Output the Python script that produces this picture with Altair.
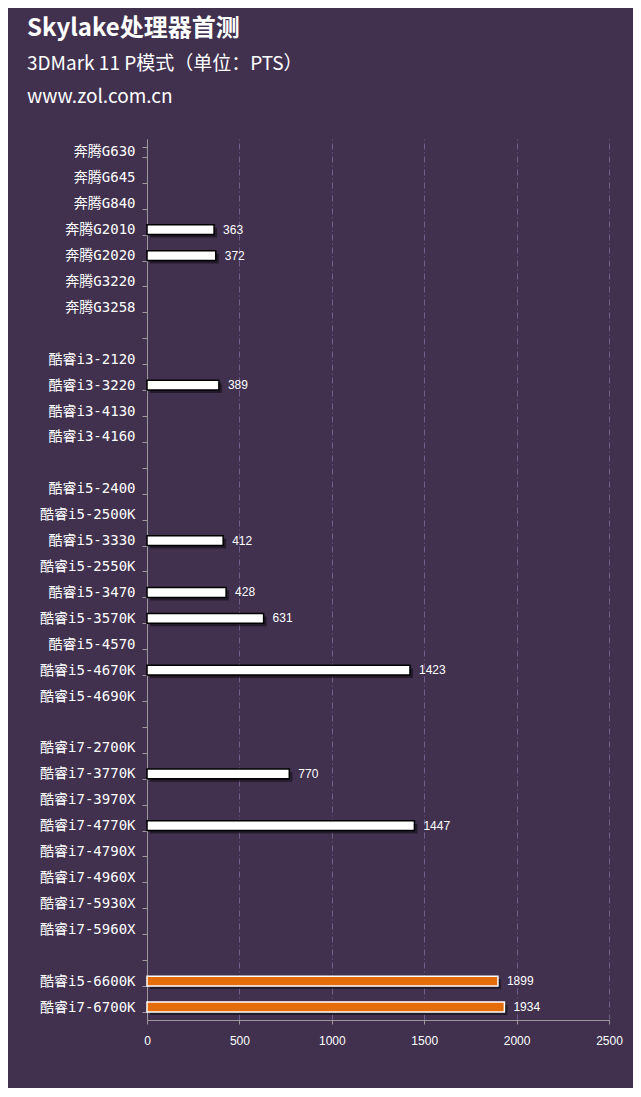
import altair as alt
import pandas as pd

categories = [
    "奔腾G630", "奔腾G645", "奔腾G840", "奔腾G2010", "奔腾G2020", "奔腾G3220", "奔腾G3258",
    " ",
    "酷睿i3-2120", "酷睿i3-3220", "酷睿i3-4130", "酷睿i3-4160",
    "  ",
    "酷睿i5-2400", "酷睿i5-2500K", "酷睿i5-3330", "酷睿i5-2550K", "酷睿i5-3470",
    "酷睿i5-3570K", "酷睿i5-4570", "酷睿i5-4670K", "酷睿i5-4690K",
    "   ",
    "酷睿i7-2700K", "酷睿i7-3770K", "酷睿i7-3970X", "酷睿i7-4770K", "酷睿i7-4790X",
    "酷睿i7-4960X", "酷睿i7-5930X", "酷睿i7-5960X",
    "    ",
    "酷睿i5-6600K", "酷睿i7-6700K",
]
bar_names = ["奔腾G2010", "奔腾G2020", "酷睿i3-3220", "酷睿i5-3330", "酷睿i5-3470",
             "酷睿i5-3570K", "酷睿i5-4670K", "酷睿i7-3770K", "酷睿i7-4770K",
             "酷睿i5-6600K", "酷睿i7-6700K"]
bar_values = [363, 372, 389, 412, 428, 631, 1423, 770, 1447, 1899, 1934]
bar_kind = ["old"] * 9 + ["new"] * 2
x_ticks = [0, 500, 1000, 1500, 2000, 2500]

df = pd.DataFrame({"name": bar_names, "score": bar_values, "kind": bar_kind})

BG = "#41314f"
FONT = "Noto Sans CJK SC"
LABEL_FONT = "DejaVu Sans Mono, Noto Sans CJK SC"
NUM_FONT = "Liberation Sans"

y_enc = alt.Y("name:N", sort=categories, scale=alt.Scale(domain=categories, paddingInner=0.62, paddingOuter=0.31),
              axis=alt.Axis(title=None, labelColor="white", labelFontSize=14, labelFont=LABEL_FONT,
                            domainColor="#9a9a9a", tickColor="#9a9a9a", tickSize=5, tickBand="extent",
                            labelPadding=7, grid=False, minExtent=120, maxExtent=120))
x_enc = alt.X("score:Q", scale=alt.Scale(domain=[0, 2500], nice=False),
              axis=alt.Axis(title=None, values=x_ticks, format="d", labelColor="white",
                            labelFontSize=12, labelFont=NUM_FONT, labelFlush=False, domainColor="#9a9a9a",
                            tickColor="#9a9a9a", tickSize=4, labelPadding=11,
                            grid=True, gridColor="#6e5e8c", gridDash=[6, 3, 1, 3], gridWidth=1))

base = alt.Chart(df)

shadow = base.mark_bar(color="black", opacity=0.45, xOffset=3, yOffset=3).encode(x=x_enc, y=y_enc)
bars = base.mark_bar(strokeWidth=1.5).encode(
    x=x_enc, y=y_enc,
    color=alt.Color("kind:N", scale=alt.Scale(domain=["old", "new"], range=["#ffffff", "#e46c0a"]), legend=None),
    stroke=alt.Stroke("kind:N", scale=alt.Scale(domain=["old", "new"], range=["#000000", "#ffffff"]), legend=None),
)
labels = base.mark_text(align="left", baseline="middle", dx=9, color="white", fontSize=12,
                        font=NUM_FONT).encode(x=x_enc, y=y_enc, text=alt.Text("score:Q", format="d"))

chart = alt.layer(shadow, bars, labels).properties(
    width=462, height=881, background=BG,
    padding={"left": 19, "top": 9, "right": 10, "bottom": 42},
    title=alt.Title(text="Skylake处理器首测", subtitle=["3DMark 11 P模式（单位：PTS）", "www.zol.com.cn"],
                    anchor="start", frame="group", dx=-120, offset=25,
                    font=FONT, fontSize=24, fontWeight="bold", color="white",
                    subtitleFont=FONT, subtitleFontSize=19, subtitleColor="white",
                    subtitleLineHeight=33, subtitlePadding=14),
).configure_view(stroke=None)

chart.save("out.html", embed_options={"renderer": "svg", "actions": False})
